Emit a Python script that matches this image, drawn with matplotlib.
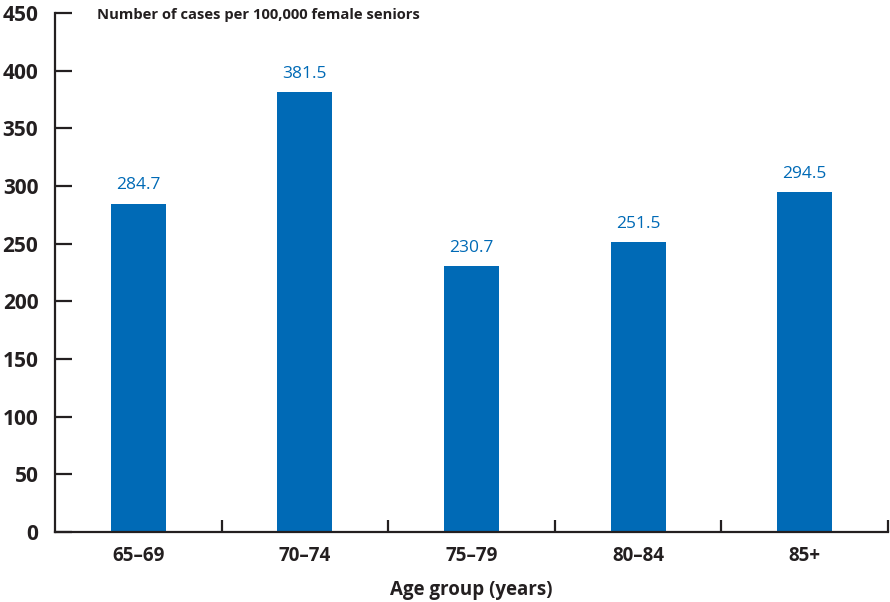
import matplotlib
matplotlib.use("Agg")
import matplotlib.pyplot as plt
import numpy as np

age_groups = ["65\u201369", "70\u201374", "75\u201379", "80\u201384", "85+"]
rates = [284.7, 381.5, 230.7, 251.5, 294.5]
y_ticks = [0, 50, 100, 150, 200, 250, 300, 350, 400, 450]

blue = "#006ab6"
ink = "#231f20"

plt.rcParams["font.family"] = ["Open Sans", "DejaVu Sans"]

fig = plt.figure(figsize=(8.9, 6.02), dpi=100)
ax = fig.add_axes([55 / 890, 70 / 602, 833 / 890, 519 / 602])

x = np.arange(len(age_groups))
ax.bar(x, rates, width=0.33, color=blue, zorder=2)

# value labels above each bar
for xi, v in zip(x, rates):
    ax.text(xi, v + 9, f"{v:.1f}", ha="center", va="bottom",
            color=blue, fontsize=12.5)

ax.set_xlim(-0.5, len(age_groups) - 0.5)
ax.set_ylim(0, 450)

ax.set_yticks(y_ticks)
ax.set_yticklabels([str(t) for t in y_ticks], fontsize=15, fontweight="bold", color=ink)
ax.tick_params(axis="y", direction="in", length=12.5, width=1.6, color=ink, pad=12)

ax.set_xticks(x)
ax.set_xticklabels(age_groups, fontsize=13.5, fontweight="bold", color=ink)
ax.tick_params(axis="x", which="major", length=0, pad=10)
# small separators between the age groups
ax.set_xticks(x + 0.5, minor=True)
ax.tick_params(axis="x", which="minor", direction="in", length=9, width=1.6, color=ink)

for side in ["top", "right"]:
    ax.spines[side].set_visible(False)
for side in ["left", "bottom"]:
    ax.spines[side].set_linewidth(1.6)
    ax.spines[side].set_color(ink)

ax.set_xlabel("Age group (years)", fontsize=13.5, fontweight="bold", color=ink, labelpad=10)
ax.text(0.05, 0.997, "Number of cases per 100,000 female seniors", transform=ax.transAxes,
        ha="left", va="center", fontsize=10.6, fontweight="bold", color=ink)

fig.savefig("out.png", dpi=100)
